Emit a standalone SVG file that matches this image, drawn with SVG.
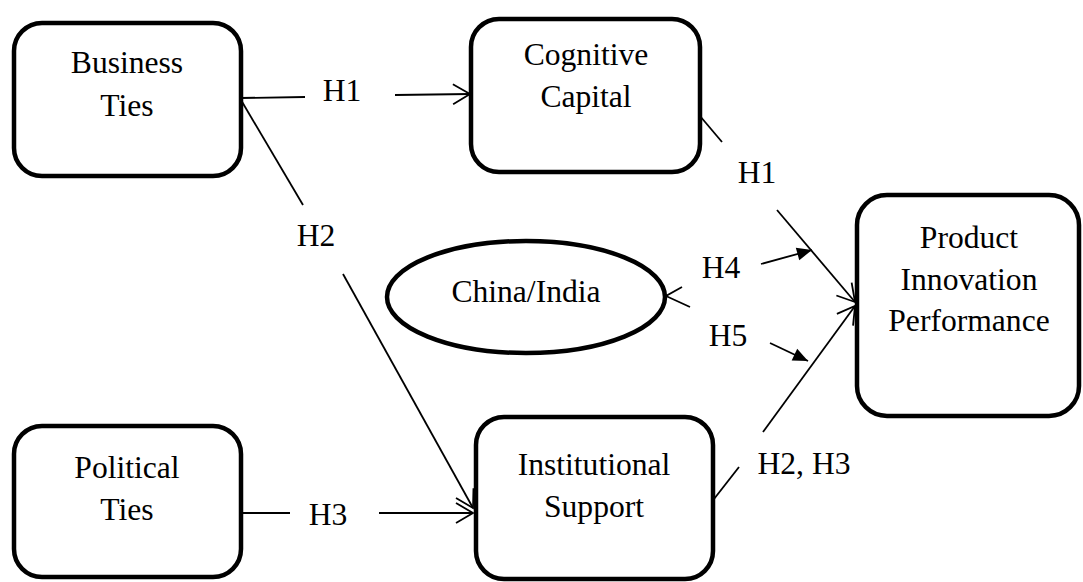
<svg xmlns="http://www.w3.org/2000/svg" width="1083" height="582" viewBox="0 0 1083 582">
<defs>
<style>
.box{fill:#fff;stroke:#000;stroke-width:4.5}
.t{font-family:"Liberation Serif","Times New Roman",serif;font-size:31.6px;fill:#000;text-anchor:middle}
.c{fill:none;stroke:#000;stroke-width:1.8}
</style>
<marker id="open" markerUnits="userSpaceOnUse" markerWidth="20" markerHeight="22" refX="17" refY="10" orient="auto" overflow="visible">
<path d="M0,0 L17,10 L0,20" fill="none" stroke="#000" stroke-width="1.8"/>
</marker>
<marker id="fill" markerUnits="userSpaceOnUse" markerWidth="16" markerHeight="14" refX="15" refY="6.5" orient="auto" overflow="visible">
<path d="M0,0 L15,6.5 L0,13 Z" fill="#000"/>
</marker>
</defs>
<rect width="1083" height="582" fill="#fff"/>
<g id="connectors">
<line class="c" x1="241" y1="98" x2="305" y2="97"/>
<line class="c" x1="395" y1="95" x2="470" y2="94" marker-end="url(#open)"/>
<text class="t" x="342" y="101">H1</text>
<line class="c" x1="241" y1="100" x2="303" y2="205"/>
<line class="c" x1="343" y1="274" x2="473" y2="508" marker-end="url(#open)"/>
<text class="t" x="316" y="246">H2</text>
<line class="c" x1="241" y1="513" x2="290" y2="513"/>
<line class="c" x1="379" y1="513" x2="473" y2="513" marker-end="url(#open)"/>
<text class="t" x="328" y="525">H3</text>
<line class="c" x1="700" y1="116" x2="722" y2="142"/>
<line class="c" x1="777" y1="210" x2="855" y2="302" marker-end="url(#open)"/>
<text class="t" x="757" y="183">H1</text>
<line class="c" x1="714" y1="499" x2="739" y2="467"/>
<line class="c" x1="763" y1="432" x2="855" y2="306" marker-end="url(#open)"/>
<text class="t" x="804" y="474">H2, H3</text>
<polyline class="c" points="682,287 666,296 690,307"/>
<line class="c" x1="761" y1="264" x2="812" y2="250" marker-end="url(#fill)"/>
<text class="t" x="721" y="278">H4</text>
<line class="c" x1="770" y1="343" x2="808" y2="361" marker-end="url(#fill)"/>
<text class="t" x="728" y="346">H5</text>
</g>
<g id="business-ties">
<rect class="box" x="14" y="23" width="227" height="153" rx="28"/>
<text class="t" x="127" y="73">Business</text>
<text class="t" x="127" y="116">Ties</text>
</g>
<g id="cognitive-capital">
<rect class="box" x="471" y="19" width="229" height="153" rx="28"/>
<text class="t" x="586" y="65">Cognitive</text>
<text class="t" x="586" y="107">Capital</text>
</g>
<g id="china-india">
<ellipse class="box" cx="526" cy="297" rx="139" ry="56"/>
<text class="t" x="526" y="302">China/India</text>
</g>
<g id="product-innovation-performance">
<rect class="box" x="857" y="195" width="222" height="221" rx="30"/>
<text class="t" x="969" y="248">Product</text>
<text class="t" x="969" y="290">Innovation</text>
<text class="t" x="969" y="331">Performance</text>
</g>
<g id="political-ties">
<rect class="box" x="14" y="426" width="227" height="151" rx="28"/>
<text class="t" x="127" y="478">Political</text>
<text class="t" x="127" y="520">Ties</text>
</g>
<g id="institutional-support">
<rect class="box" x="476" y="417" width="237" height="162" rx="28"/>
<text class="t" x="594" y="475">Institutional</text>
<text class="t" x="594" y="517">Support</text>
</g>
</svg>
